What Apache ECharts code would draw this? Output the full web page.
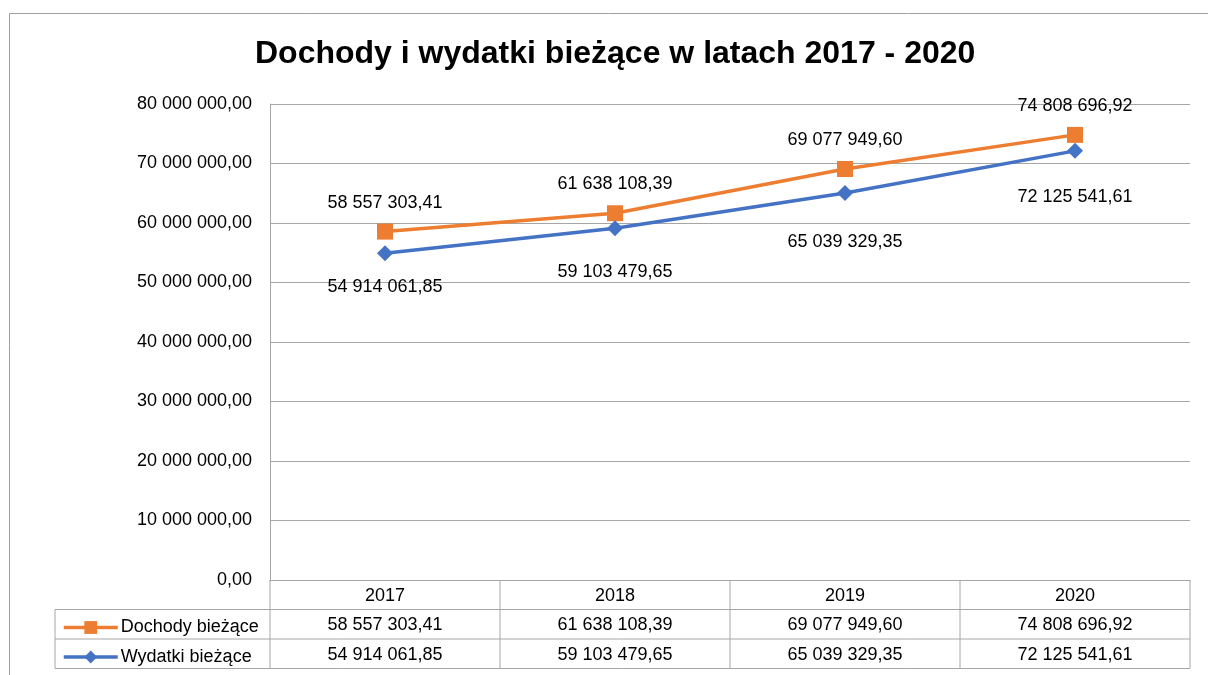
<!DOCTYPE html>
<html>
<head>
<meta charset="utf-8">
<script src="https://cdn.jsdelivr.net/npm/echarts@6/dist/echarts.min.js"></script>
<style>
  html, body { margin: 0; padding: 0; background: #fff; }
  #chart { width: 1208px; height: 675px; }
</style>
</head>
<body>
<div id="chart"></div>
<script>
// data
const years = ['2017', '2018', '2019', '2020'];
const dochody = [58557303.41, 61638108.39, 69077949.60, 74808696.92];
const wydatki = [54914061.85, 59103479.65, 65039329.35, 72125541.61];
const seriesNames = ['Dochody bieżące', 'Wydatki bieżące'];

// label gaps below the blue points (Excel pushed them around a bit)
const wydatkiLabelGap = [17, 27, 32, 29];

const FONT = '"Liberation Sans", Arial, sans-serif';
const GRID_LEFT = 270, GRID_RIGHT = 1190, GRID_TOP = 104, GRID_BOTTOM = 580;
const ROW_H = 29.5;
const LINE_GRAY = '#a6a6a6';

function fmt(v) {
    let parts = v.toFixed(2).split('.');
    let intPart = parts[0].replace(/\B(?=(\d{3})+(?!\d))/g, ' ');
    return intPart + ',' + parts[1];
}

let chart = echarts.init(document.getElementById('chart'));

// table border lines
let tableLines = [];
let rowTop = GRID_BOTTOM, rowsBottom = GRID_BOTTOM + ROW_H * 3;
let colW = (GRID_RIGHT - GRID_LEFT) / years.length;
for (let i = 0; i <= years.length; i++) {
    let x = GRID_LEFT + colW * i;
    tableLines.push({ x1: x, y1: rowTop, x2: x, y2: rowsBottom });
}
for (let r = 1; r <= 3; r++) {
    let y = GRID_BOTTOM + ROW_H * r;
    tableLines.push({ x1: 55, y1: y, x2: GRID_RIGHT, y2: y });
}
tableLines.push({ x1: 55, y1: GRID_BOTTOM + ROW_H, x2: 55, y2: rowsBottom });

let graphics = tableLines.map(s => ({
    type: 'line',
    shape: s,
    style: { stroke: LINE_GRAY, lineWidth: 1 },
    z: 10
}));
// outer chart frame (left and top edges visible)
graphics.push({
    type: 'polyline',
    shape: { points: [[9.5, 675], [9.5, 13.5], [1208, 13.5]] },
    style: { stroke: '#a0a0a0', lineWidth: 1, fill: null }
});

let label18 = { fontFamily: FONT, fontSize: 18, color: '#000' };

let option = {
    animation: false,
    backgroundColor: '#fff',
    title: {
        text: 'Dochody i wydatki bieżące w latach 2017 - 2020',
        left: 250,
        top: 33,
        textStyle: { fontFamily: FONT, fontSize: 32, fontWeight: 'bold', color: '#000' }
    },
    legend: {
        orient: 'vertical',
        left: 62,
        top: GRID_BOTTOM + ROW_H + 9,
        padding: 0,
        itemGap: 11.5,
        itemWidth: 54,
        itemHeight: 16,
        data: seriesNames,
        lineStyle: { width: 3.5 },
        textStyle: Object.assign({ padding: [0, 0, 0, -2] }, label18)
    },
    grid: {
        left: GRID_LEFT,
        right: 1208 - GRID_RIGHT,
        top: GRID_TOP,
        bottom: 675 - GRID_BOTTOM
    },
    xAxis: [
        {
            type: 'category',
            data: years,
            axisLine: { lineStyle: { color: LINE_GRAY } },
            axisTick: { show: false },
            axisLabel: Object.assign({ margin: 7 }, label18)
        },
        {
            type: 'category',
            position: 'bottom',
            offset: ROW_H,
            data: dochody.map(fmt),
            axisLine: { show: false },
            axisTick: { show: false },
            axisLabel: Object.assign({ margin: 7 }, label18)
        },
        {
            type: 'category',
            position: 'bottom',
            offset: ROW_H * 2,
            data: wydatki.map(fmt),
            axisLine: { show: false },
            axisTick: { show: false },
            axisLabel: Object.assign({ margin: 7 }, label18)
        }
    ],
    yAxis: {
        type: 'value',
        min: 0,
        max: 80000000,
        interval: 10000000,
        axisLine: { show: true, lineStyle: { color: LINE_GRAY } },
        axisTick: { show: false },
        splitLine: { lineStyle: { color: LINE_GRAY, width: 1 } },
        axisLabel: Object.assign({ margin: 18, formatter: v => fmt(v) }, label18)
    },
    series: [
        {
            name: seriesNames[0],
            type: 'line',
            data: dochody,
            color: '#ED7D31',
            lineStyle: { width: 3.5 },
            symbol: 'rect',
            symbolSize: 16,
            z: 3,
            label: Object.assign({
                show: true,
                position: 'top',
                distance: 12,
                formatter: p => fmt(p.value)
            }, label18)
        },
        {
            name: seriesNames[1],
            type: 'line',
            data: wydatki.map((v, i) => ({
                value: v,
                label: { distance: wydatkiLabelGap[i] }
            })),
            color: '#4472C4',
            lineStyle: { width: 3.5 },
            symbol: 'diamond',
            symbolSize: 16,
            z: 4,
            label: Object.assign({
                show: true,
                position: 'bottom',
                formatter: p => fmt(p.value)
            }, label18)
        }
    ],
    graphic: graphics
};

chart.setOption(option);
</script>
</body>
</html>
